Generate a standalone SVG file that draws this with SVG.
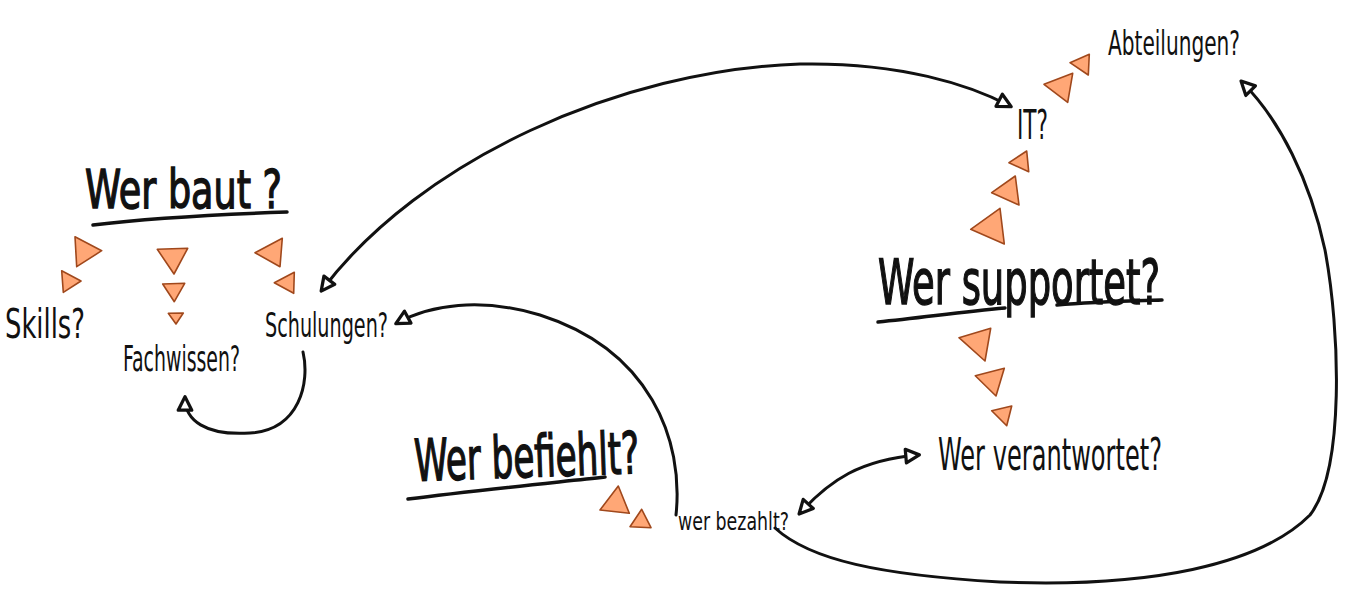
<svg xmlns="http://www.w3.org/2000/svg" width="1350" height="599" viewBox="0 0 1350 599">
<style>
.tri{fill:#FFA776;stroke:#A0481C;stroke-width:1.6;stroke-linejoin:round}
.t{font-family:"Liberation Sans Narrow","DejaVu Sans Condensed","Liberation Sans",sans-serif;fill:#111}
.h{font-weight:normal;stroke:#111;stroke-width:1.4}
.ul{fill:none;stroke:#111;stroke-width:3.5;stroke-linecap:round}
.c{fill:none;stroke:#111;stroke-width:3;stroke-linecap:round}
</style>
<defs>
<marker id="ah" viewBox="0 0 14 14" refX="11" refY="7" markerWidth="19" markerHeight="19" markerUnits="userSpaceOnUse" orient="auto-start-reverse">
<path d="M2,2 L12,7 L2,12 Z" fill="#fff" stroke="#111" stroke-width="2.4" stroke-linejoin="round"/>
</marker>
</defs>
<rect width="1350" height="599" fill="#fff"/>
<g id="connectors">
<path class="c" d="M322,290 C420,160 620,70 800,64 C900,62 970,85 1010,106" marker-start="url(#ah)" marker-end="url(#ah)"/>
<path class="c" d="M676,515 C684,440 650,350 540,315 C480,297 430,305 397,323" marker-end="url(#ah)"/>
<path class="c" d="M303,352 C310,382 300,430 250,433 C205,436 185,420 185,398" marker-end="url(#ah)"/>
<path class="c" d="M800,513 C830,480 860,460 918,455" marker-start="url(#ah)" marker-end="url(#ah)"/>
<path class="c" d="M775,528 C810,560 880,575 1000,582 C1150,588 1260,565 1310,515 C1345,470 1340,330 1325,250 C1310,180 1280,120 1242,82" marker-end="url(#ah)"/>
</g>
<g id="wer-baut">
<text class="t h" x="85" y="208" font-size="54" textLength="197" lengthAdjust="spacingAndGlyphs">Wer baut ?</text>
<path class="ul" d="M93,225 C150,218 230,214 287,212"/>
<polygon class="tri" points="75,236.7 101.7,250.7 76.7,266.7"/>
<polygon class="tri" points="61.7,270.7 81,281 63.3,292.3"/>
<polygon class="tri" points="157.3,249.3 187.7,248.3 174,274"/>
<polygon class="tri" points="162.7,284 184.7,283.3 174.3,301.7"/>
<polygon class="tri" points="168.3,313.3 183.3,313 176,324"/>
<polygon class="tri" points="282.3,238.3 255,252.7 280,266.7"/>
<polygon class="tri" points="294.3,272.3 274.3,282.7 293.7,293.3"/>
</g>
<g id="skills"><text class="t" x="5" y="338" font-size="40" textLength="80" lengthAdjust="spacingAndGlyphs">Skills?</text></g>
<g id="fachwissen"><text class="t" x="123" y="371" font-size="36" textLength="117" lengthAdjust="spacingAndGlyphs">Fachwissen?</text></g>
<g id="schulungen"><text class="t" x="265" y="337" font-size="34" textLength="123" lengthAdjust="spacingAndGlyphs">Schulungen?</text></g>
<g id="wer-befiehlt">
<text class="t h" x="415" y="481" font-size="58" textLength="225" lengthAdjust="spacingAndGlyphs" transform="rotate(-2 415 481)">Wer befiehlt?</text>
<path class="ul" d="M408,499 C470,491 550,483 605,477"/>
<polygon class="tri" points="618.3,486 600,510 629.3,513.3"/>
<polygon class="tri" points="641.7,509.3 630,526.7 651,527.7"/>
</g>
<g id="wer-bezahlt"><text class="t" x="678" y="530" font-size="24" textLength="111" lengthAdjust="spacingAndGlyphs">wer bezahlt?</text></g>
<g id="wer-supportet">
<text class="t h" x="878" y="304" font-size="62" textLength="282" lengthAdjust="spacingAndGlyphs">Wer supportet?</text>
<path class="ul" d="M878,322 C920,318 960,312 1005,308"/>
<path class="ul" d="M1057,305 C1090,302 1130,301 1162,300"/>
<polygon class="tri" points="990.7,328.3 959,337.7 985,361"/>
<polygon class="tri" points="1004.3,368.3 975.3,375.7 996,396"/>
<polygon class="tri" points="1011.7,406 991.7,410.7 1006.7,425.7"/>
<polygon class="tri" points="1000,208.3 970.7,229.3 1004.3,244"/>
<polygon class="tri" points="1015.3,176 991.7,192.7 1019,205"/>
<polygon class="tri" points="1026.7,151 1009,162.7 1028.7,171.7"/>
</g>
<g id="wer-verantwortet"><text class="t" x="938" y="470" font-size="44" textLength="224" lengthAdjust="spacingAndGlyphs">Wer verantwortet?</text></g>
<g id="it"><text class="t" x="1017" y="139" font-size="40" textLength="31" lengthAdjust="spacingAndGlyphs">IT?</text></g>
<g id="abteilungen">
<text class="t" x="1108" y="55" font-size="34" textLength="132" lengthAdjust="spacingAndGlyphs">Abteilungen?</text>
<polygon class="tri" points="1072.7,73.3 1044,84.3 1067.7,102.3"/>
<polygon class="tri" points="1089.3,54.3 1070,62.7 1088.3,75"/>
</g>
</svg>
